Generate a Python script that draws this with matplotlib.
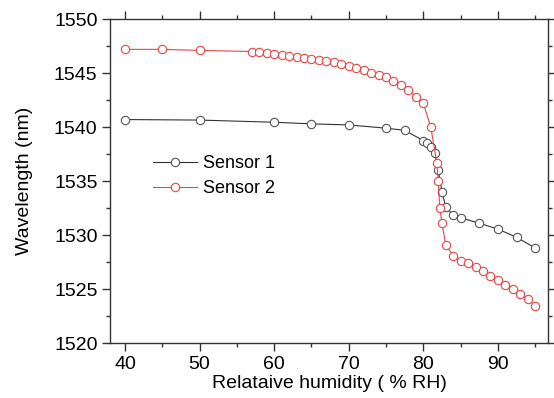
import matplotlib
matplotlib.use("Agg")
import matplotlib.pyplot as plt
from matplotlib.ticker import MultipleLocator

# Sensor 1 readings (relative humidity in % RH, wavelength in nm)
rh1 = [40, 50, 60, 65, 70, 75, 77.5, 80, 80.5, 81, 81.5, 82, 82.5, 83,
       84, 85, 87.5, 90, 92.5, 95]
wl1 = [1540.7, 1540.65, 1540.45, 1540.3, 1540.2, 1539.9, 1539.7, 1538.75,
       1538.5, 1538.2, 1537.6, 1536.0, 1534.0, 1532.6, 1531.85, 1531.6,
       1531.1, 1530.55, 1529.8, 1528.8]

# Sensor 2 readings
rh2 = [40, 45, 50, 57, 58, 59, 60, 61, 62, 63, 64, 65, 66, 67, 68, 69, 70,
       71, 72, 73, 74, 75, 76, 77, 78, 79, 80, 81, 81.8, 82, 82.2, 82.5, 83,
       84, 85, 86, 87, 88, 89, 90, 91, 92, 93, 94, 95]
wl2 = [1547.2, 1547.2, 1547.1, 1547.0, 1547.0, 1546.9, 1546.78, 1546.7,
       1546.6, 1546.5, 1546.4, 1546.3, 1546.2, 1546.12, 1546.0, 1545.85,
       1545.7, 1545.5, 1545.3, 1545.05, 1544.85, 1544.6, 1544.25, 1543.9,
       1543.4, 1542.8, 1542.2, 1540.0, 1536.7, 1535.0, 1532.5, 1531.1,
       1529.1, 1528.1, 1527.6, 1527.4, 1527.05, 1526.7, 1526.2, 1525.8,
       1525.4, 1525.0, 1524.5, 1524.1, 1523.4]

plt.rcParams['font.family'] = ['Liberation Sans', 'DejaVu Sans']

fig = plt.figure(figsize=(5.54, 3.98), dpi=100)
ax = fig.add_axes([0.1986, 0.138, 0.7904, 0.814])

ax.plot(rh1, wl1, color='#333333', lw=0.8, marker='o', markersize=6,
        markerfacecolor='white', markeredgecolor='#555555', mew=0.8,
        label='Sensor 1')
ax.plot(rh2, wl2, color='#e84545', lw=0.8, marker='o', markersize=6,
        markerfacecolor='white', markeredgecolor='#e84545', mew=0.8,
        label='Sensor 2')

ax.set_xlim(38, 96.7)
ax.set_ylim(1520, 1550)
ax.xaxis.set_major_locator(MultipleLocator(10))
ax.xaxis.set_minor_locator(MultipleLocator(5))
ax.yaxis.set_major_locator(MultipleLocator(5))
ax.yaxis.set_minor_locator(MultipleLocator(2.5))
ax.tick_params(which='both', direction='out', top=True, right=True,
               width=1, colors='#333333', labelcolor='black', labelsize=14)
ax.tick_params(which='major', length=5.5)
ax.tick_params(which='minor', length=3)
for s in ax.spines.values():
    s.set_linewidth(1)
    s.set_color('#333333')

ax.set_xlabel('Relataive humidity ( % RH)', fontsize=14, labelpad=2)
ax.set_ylabel('Wavelength (nm)', fontsize=14, labelpad=15)

ax.legend(loc='upper left', bbox_to_anchor=(0.0975, 0.58), frameon=False,
          fontsize=13, handlelength=2.45, handletextpad=0.35,
          borderpad=0, borderaxespad=0, labelspacing=0.45)

fig.savefig('out.png', dpi=100)
